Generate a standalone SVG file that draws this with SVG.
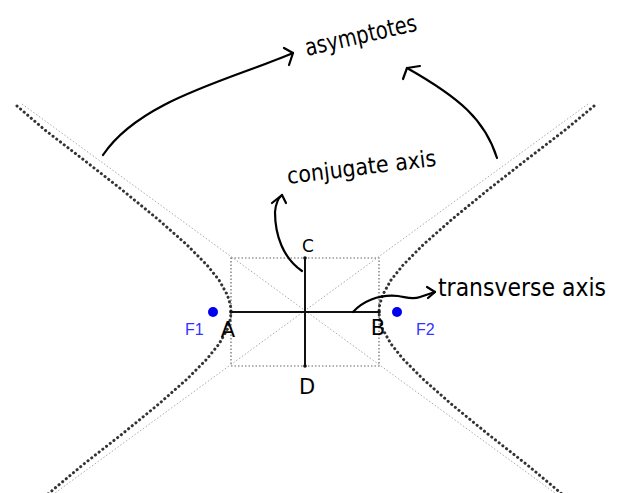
<svg xmlns="http://www.w3.org/2000/svg" width="622" height="493" viewBox="0 0 622 493">
<style>
.hyp{fill:none;stroke:#333;stroke-width:3;stroke-linecap:round;stroke-dasharray:0.1 4.6}
.asym{fill:none;stroke:#aaa;stroke-width:1;stroke-dasharray:1.5 2}
.box{fill:none;stroke:#666;stroke-width:1.2;stroke-dasharray:1.5 2}
.axis{stroke:#111;stroke-width:2}
.ink{fill:none;stroke:#000;stroke-width:2.2;stroke-linecap:round;stroke-linejoin:round}
.hand{font-family:"DejaVu Sans","Liberation Sans",sans-serif;fill:#000}
.focus{fill:#0000ee}
.flabel{font-family:"Liberation Sans",Arial,sans-serif;font-size:16px;fill:#3333ff}
</style>
<rect width="622" height="493" fill="#fff"/>
<g id="asymptotes">
<line class="asym" x1="22" y1="104" x2="592" y2="520"/>
<line class="asym" x1="588" y1="104" x2="18" y2="520"/>
</g>
<g id="box">
<rect class="box" x="231" y="258" width="148" height="108"/>
</g>
<g id="hyperbola">
<polyline class="hyp" points="17,106 44.9,130 83.9,160 122.2,190 158.8,220 187.1,245 206.9,265 219,280 227.4,295 230.4,305 231,312 230.4,319 227.4,329 219,344 206.9,359 187.1,379 158.8,404 122.2,434 83.9,464 48,494"/>
<polyline class="hyp" points="594,106 565.1,130 526.1,160 487.8,190 451.2,220 422.9,245 403.1,265 391,280 382.6,295 379.6,305 379,312 379.6,319 382.6,329 391,344 403.1,359 422.9,379 451.2,404 487.8,434 526.1,464 562,494"/>
</g>
<g id="axes">
<line class="axis" x1="231" y1="312" x2="379" y2="312"/>
<line class="axis" x1="305" y1="258" x2="305" y2="366"/>
<circle cx="231" cy="312" r="1.8" fill="#111"/>
<circle cx="379" cy="312" r="1.8" fill="#111"/>
<circle cx="305" cy="258" r="1.8" fill="#111"/>
<circle cx="305" cy="366" r="1.8" fill="#111"/>
</g>
<g id="F1">
<circle class="focus" cx="213" cy="312" r="5"/>
<text class="flabel" x="185" y="335">F1</text>
</g>
<g id="F2">
<circle class="focus" cx="397" cy="312" r="5"/>
<text class="flabel" x="416" y="335">F2</text>
</g>
<g id="labels">
<text class="hand" x="228" y="337" font-size="21" text-anchor="middle">A</text>
<text class="hand" x="378" y="335" font-size="21" text-anchor="middle">B</text>
<text class="hand" x="308" y="252" font-size="17" text-anchor="middle">C</text>
<text class="hand" x="307" y="394" font-size="21" text-anchor="middle">D</text>
<text class="hand" font-size="24" textLength="114" lengthAdjust="spacingAndGlyphs" transform="translate(307,56) rotate(-13)">asymptotes</text>
<text class="hand" font-size="23" textLength="150" lengthAdjust="spacingAndGlyphs" transform="translate(288,184) rotate(-7)">conjugate axis</text>
<text class="hand" x="438" y="296" font-size="24" textLength="168" lengthAdjust="spacingAndGlyphs">transverse axis</text>
</g>
<g id="connectors">
<path class="ink" d="M103,155 C140,100 230,80 293,53"/>
<path class="ink" d="M284,48 L293,53 L289,65"/>
<path class="ink" d="M497,158 C485,120 460,98 407,68"/>
<path class="ink" d="M403,79 L407,68 L420,66"/>
<path class="ink" d="M302,271 C283,258 275,235 275,212 Q276,200 282,195"/>
<path class="ink" d="M272,203 L282,195 L286,203"/>
<path class="ink" d="M353,312 C362,302 378,294 398,296 C406,297 412,300 420,297 L435,292"/>
<path class="ink" d="M427,287 L435,292 L428,298"/>
</g>
</svg>
